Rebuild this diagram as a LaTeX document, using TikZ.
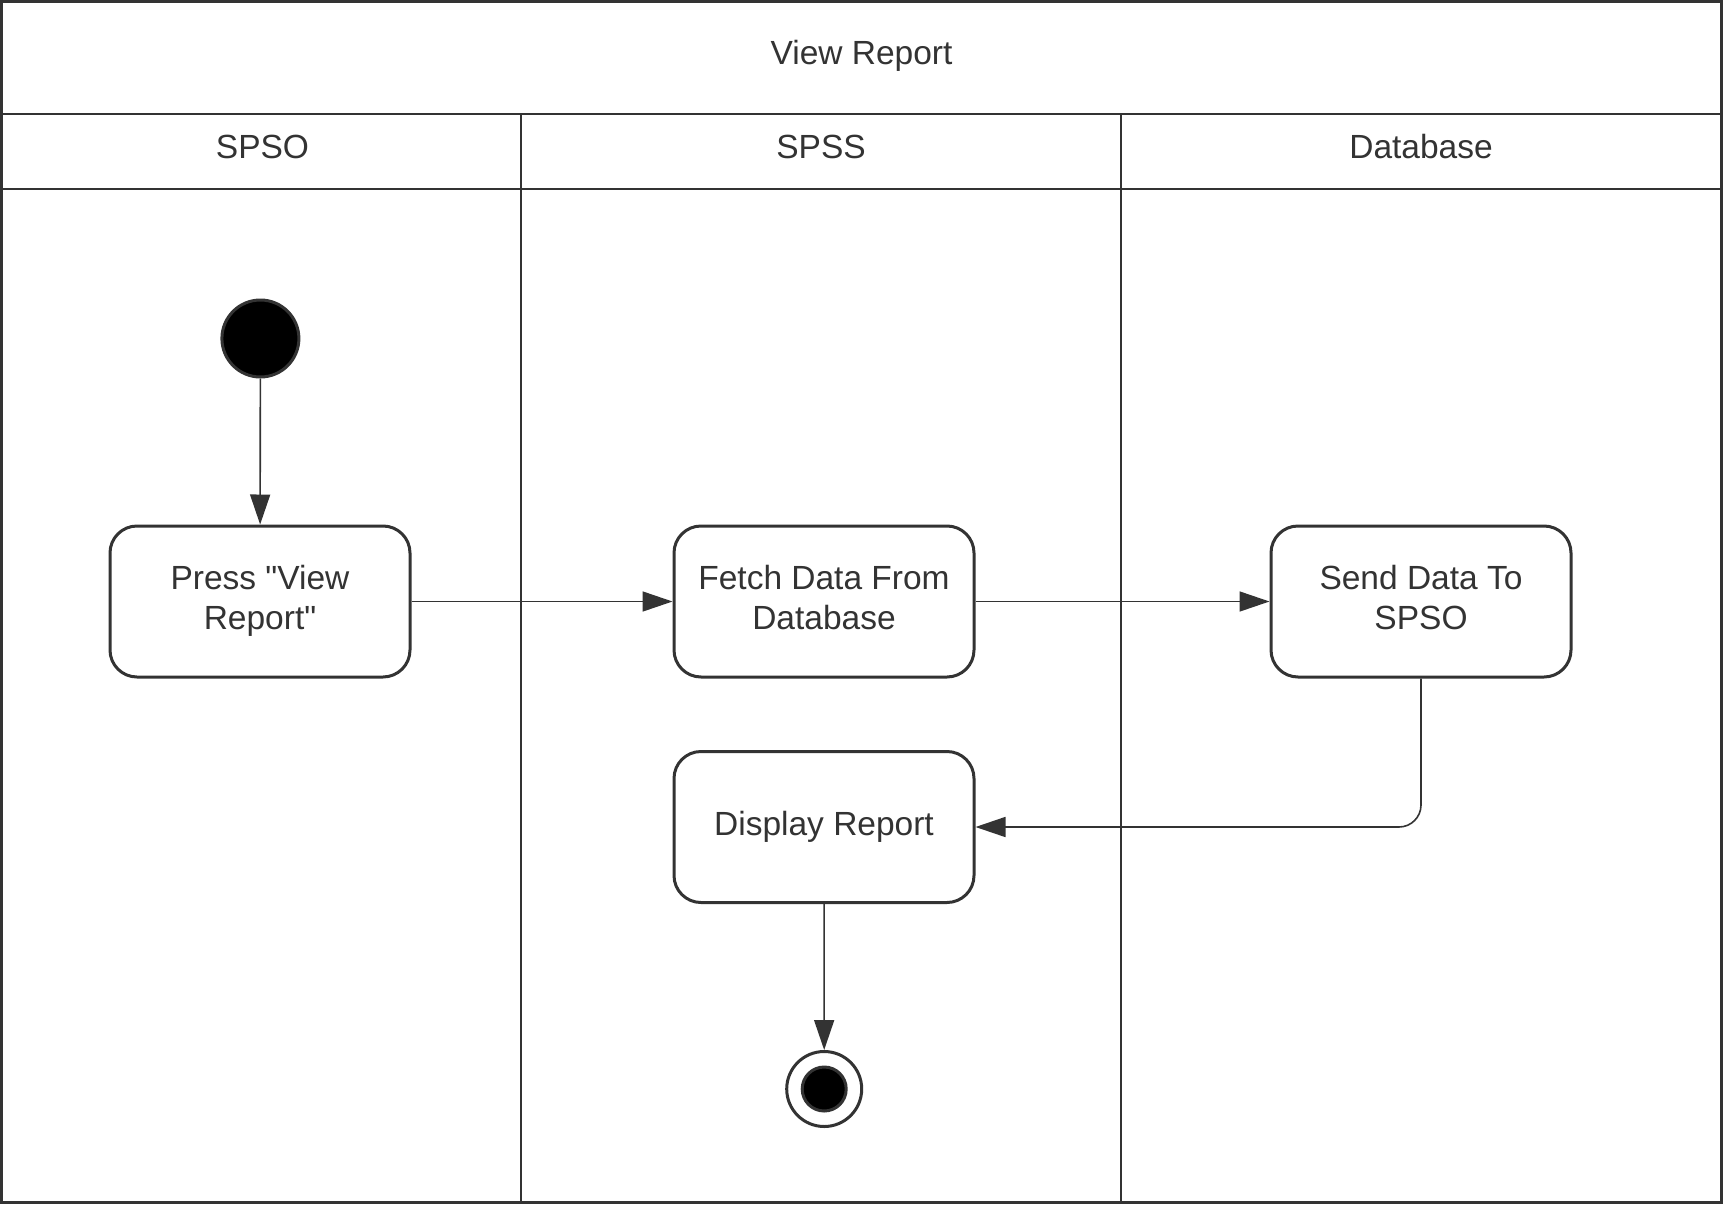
\documentclass[tikz,border=0pt]{standalone}
\usepackage{fontspec}
\setmainfont{Liberation Sans}
\usetikzlibrary{arrows.meta}
\definecolor{ink}{HTML}{333333}
\newcommand\straightquote{\XeTeXglyph\XeTeXcharglyph"22\relax}
\begin{document}
\begin{tikzpicture}[x=1pt,y=-1pt,
  every node/.style={font=\fontsize{33.5}{40.7}\selectfont, text=ink},
  lane/.style={draw=ink, line width=2.6},
  actbox/.style={draw=ink, line width=3, rounded corners=27, minimum width=300, minimum height=151, inner sep=0, align=center, fill=white},
  conn/.style={draw=ink, line width=1.6, -{Triangle[length=30,width=20]}},
  startdot/.style={circle, draw=ink, line width=3, fill=black, minimum size=77, inner sep=0},
  endring/.style={circle, draw=ink, line width=3, fill=white, minimum size=75, inner sep=0},
  enddot/.style={circle, draw=ink, line width=3, fill=black, minimum size=44, inner sep=0}]
\useasboundingbox (0,0) rectangle (1723,1204);
\fill[white] (0,0) rectangle (1723,1204);
% pool frame and lanes
\draw[lane] (0,114) -- (1723,114);
\draw[lane] (0,189) -- (1723,189);
\draw[lane] (521,114) -- (521,1204);
\draw[lane] (1121,114) -- (1121,1204);
\draw[draw=ink, line width=3.4] (1.7,1.7) rectangle (1721.3,1202.3);
% headers
\node (title) at (861.5,55.5) {View Report};
\node (h1) at (262.5,147) {SPSO};
\node (h2) at (821,147) {SPSS};
\node (h3) at (1421,147) {Database};
% activity nodes
\node[startdot] (start) at (260.4,338.5) {};
\node[actbox] (press) at (260,601.5) {Press \straightquote View\strut\\Report\straightquote\strut};
\node[actbox] (fetch) at (824,601.5) {Fetch Data From\strut\\Database\strut};
\node[actbox] (send) at (1421,601.5) {Send Data To\strut\\SPSO\strut};
\node[actbox] (disp) at (824,827) {Display Report\strut};
\node[endring] (fin) at (824.2,1089) {};
\node[enddot] (findot) at (fin.center) {};
% connectors
\draw[conn] (start) -- (press);
\draw[conn] (press) -- (fetch);
\draw[conn] (fetch) -- (send);
\draw[conn, rounded corners=22] (send.south) |- (disp.east);
\draw[conn] (disp) -- (fin);
\end{tikzpicture}
\end{document}
